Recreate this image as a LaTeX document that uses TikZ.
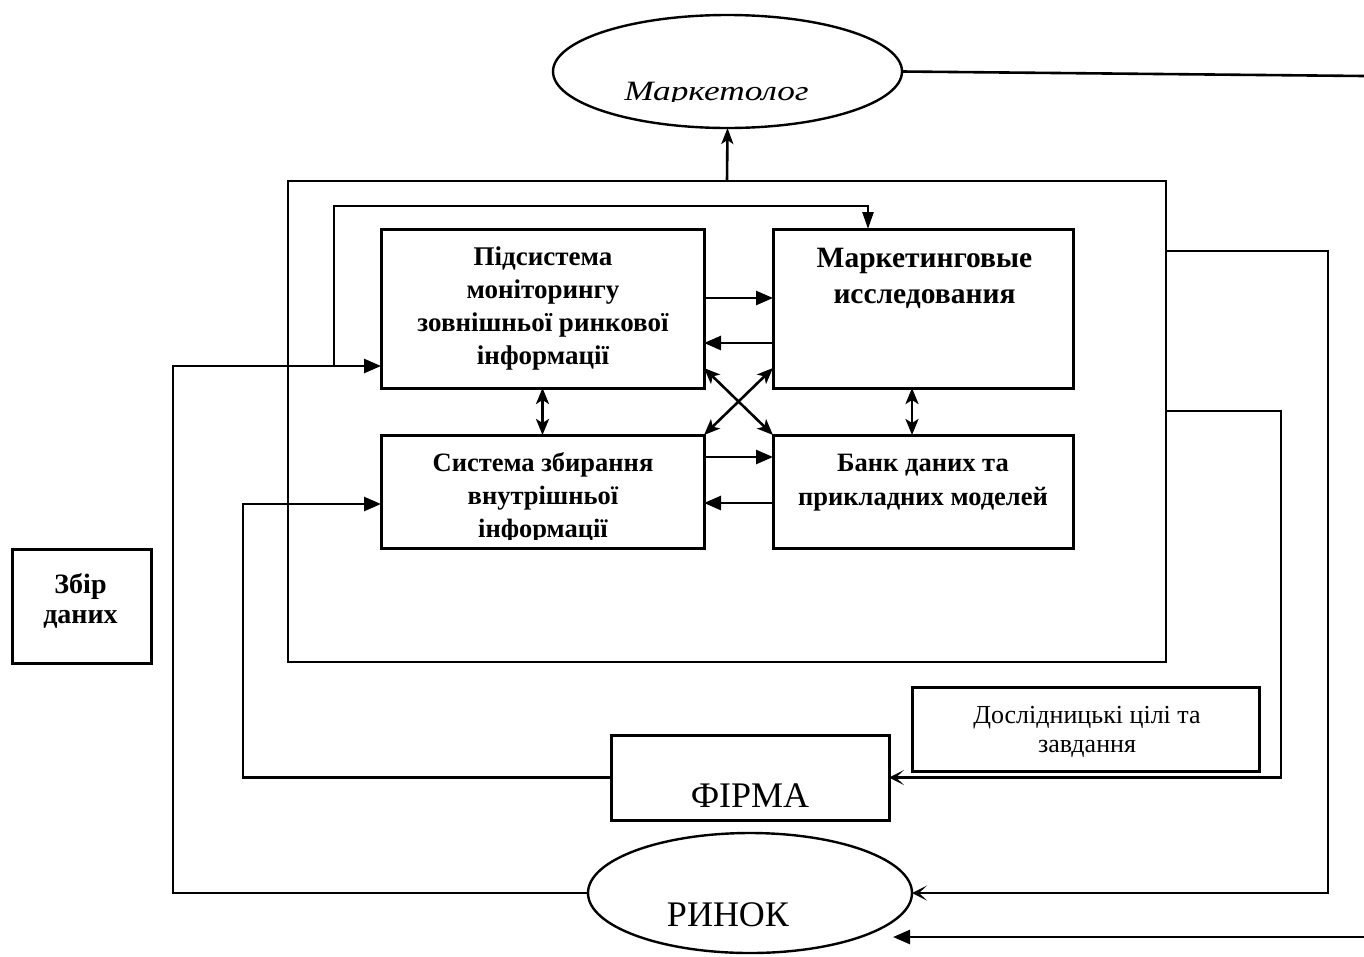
\documentclass[tikz,border=0pt]{standalone}
\usepackage{fontspec}
\setmainfont{Liberation Serif}
\usetikzlibrary{arrows.meta,shapes.geometric}
\newcommand{\mlines}[4]{\parbox[t]{#1}{\centering\fontsize{#2}{#3}\selectfont #4}}
\tikzset{
  blk/.style={draw, line width=3pt, inner sep=0pt, outer sep=0pt},
  ell/.style={draw, ellipse, line width=2.4pt, inner sep=0pt, outer sep=0pt},
  con/.style={line width=2.6pt},
  tri/.style={con, -{Triangle[length=17pt,width=14pt]}},
  trin/.style={con, -{Triangle[length=17pt,width=11pt]}},
  stl/.style={con, -{Stealth[length=16pt,width=12pt,inset=4pt]}},
  dbl/.style={con, {Stealth[length=16pt,width=13pt,inset=4pt]}-{Stealth[length=16pt,width=13pt,inset=4pt]}},
  opn/.style={con, -{Stealth[length=15pt,width=15pt,inset=8pt]}},
  txt/.style={inner sep=0pt, outer sep=0pt, anchor=base},
}
\begin{document}
\begin{tikzpicture}[x=1pt, y=-1pt, line join=miter]
\useasboundingbox (0,0) rectangle (1364,956);

% boxes
\node[blk, line width=2.6pt, minimum width=878pt, minimum height=481pt] (O) at (727,421.5) {};
\node[blk, minimum width=323pt, minimum height=159pt] (A) at (542.5,308.5) {};
\node[blk, minimum width=300pt, minimum height=159pt] (B) at (923,308.5) {};
\node[blk, minimum width=323pt, minimum height=113pt] (C) at (542.5,491.5) {};
\node[blk, minimum width=300pt, minimum height=113pt] (D) at (923,491.5) {};
\node[blk, minimum width=139pt, minimum height=114pt] (Z) at (81.5,606) {};
\node[blk, minimum width=347pt, minimum height=84pt] (R) at (1085.5,729) {};
\node[blk, minimum width=278pt, minimum height=85pt] (F) at (750,777.5) {};
\node[ell, minimum width=349pt, minimum height=113pt] (M) at (727.5,71.5) {};
\node[ell, minimum width=324pt, minimum height=120pt] (Rn) at (750,893) {};

% texts
\node[txt] (tA) at (543,265) {\mlines{320pt}{27}{33}{\bfseries Підсистема\\моніторингу\\зовнішньої ринкової\\інформації}};
\node[txt] (tB) at (924.5,267) {\mlines{298pt}{29.5}{36}{\bfseries Маркетинговые\\исследования}};
\begin{scope}
  \clip (381,435) rectangle (704,539);
  \node[txt] (tC) at (543,471) {\mlines{320pt}{26.5}{33}{\bfseries Система збирання\\внутрішньої\\інформації}};
\end{scope}
\node[txt] (tD) at (923,471) {\mlines{298pt}{26.5}{34}{\bfseries Банк даних та\\прикладних моделей}};
\node[txt] (tZ) at (80.5,593) {\mlines{136pt}{28}{30}{\bfseries Збір\\даних}};
\node[txt] (tR) at (1087,723) {\mlines{344pt}{26}{29}{Дослідницькі цілі та\\завдання}};
\node[txt, font=\fontsize{36}{40}\selectfont] (tF) at (750,807) {ФІРМА};
\node[txt, font=\fontsize{36}{40}\selectfont] (tRn) at (728,926) {РИНОК};
\begin{scope}
  \clip (555,40) rectangle (900,101);
  \node[txt, font=\fontsize{28}{32}\selectfont\itshape] (tM) at (716.5,100) {\scalebox{1.26}[1]{Маркетолог}};
\end{scope}

% coordinates
\coordinate (mE) at (1364,76);
\coordinate (L1) at (173,366);
\coordinate (L2) at (334,366);
\coordinate (T1) at (334,206);
\coordinate (T2) at (868,206);
\coordinate (L3) at (243,504);
\coordinate (R1) at (1328,251);
\coordinate (R2) at (1281,411);
\coordinate (B1) at (1364,937);
\coordinate (B2) at (893,937);

% outer connectors
\draw[stl] (O.north) -- (M.south);
\draw[con] (M.east) -- (mE);
\draw[tri] (Rn.west) -| (L1) -- (L1 -| A.west);
\draw[trin] (L2) -- (T1) -- (T2) -- (T2 |- B.north);
\draw[tri] (F.west) -| (L3) -- (L3 -| C.west);
\draw[opn] (R1 -| O.east) -- (R1) |- (Rn.east);
\draw[opn] (R2 -| O.east) -- (R2) |- (F.east);
\draw[tri] (B1) -- (B2);

% inner connectors
\draw[tri] ([yshift=10.5pt]A.east) -- ([yshift=10.5pt]B.west);
\draw[tri] ([yshift=-34.5pt]B.west) -- ([yshift=-34.5pt]A.east);
\draw[tri] ([yshift=34.5pt]C.east) -- ([yshift=34.5pt]D.west);
\draw[tri] ([yshift=-11.5pt]D.west) -- ([yshift=-11.5pt]C.east);
\draw[dbl] (A.south) -- (C.north);
\draw[dbl] ([xshift=-11pt]B.south) -- ([xshift=-11pt]D.north);
\draw[dbl] ([yshift=20pt]A.south east) -- (D.north west);
\draw[dbl] ([yshift=20pt]B.south west) -- (C.north east);
\end{tikzpicture}
\end{document}
